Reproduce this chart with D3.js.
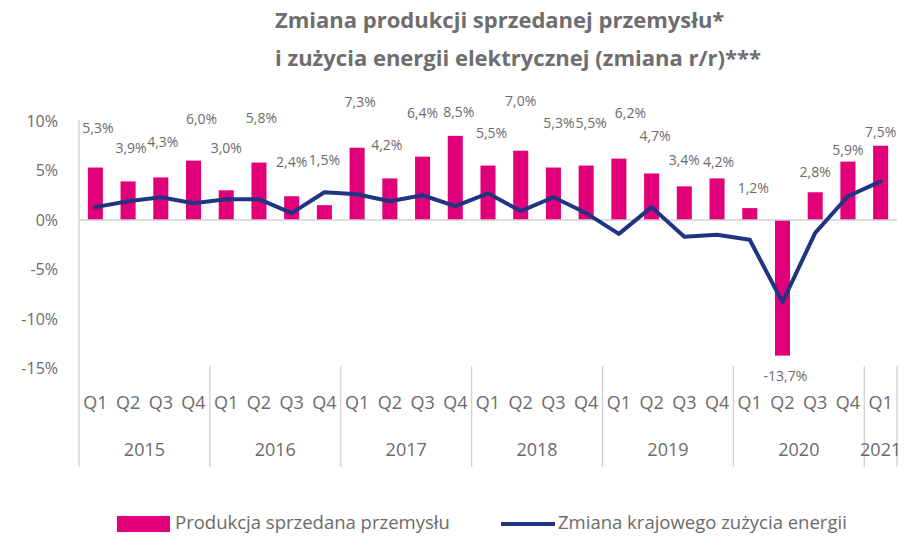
<!DOCTYPE html>
<html>
<head>
<meta charset="utf-8">
<script src="https://cdn.jsdelivr.net/npm/d3@7/dist/d3.min.js"></script>
<style>
  html, body { margin: 0; padding: 0; background: #fff; }
  svg { display: block; }
  text { font-family: "Open Sans", "Noto Sans", sans-serif; }
</style>
</head>
<body>
<svg id="chart" width="904" height="536"></svg>
<script>
// ---- data ----
const years = ["2015", "2016", "2017", "2018", "2019", "2020", "2021"];
const quartersPerYear = [4, 4, 4, 4, 4, 4, 1];
const quarterLabels = ["Q1","Q2","Q3","Q4","Q1","Q2","Q3","Q4","Q1","Q2","Q3","Q4","Q1","Q2","Q3","Q4","Q1","Q2","Q3","Q4","Q1","Q2","Q3","Q4","Q1"];
const production = [5.3, 3.9, 4.3, 6.0, 3.0, 5.8, 2.4, 1.5, 7.3, 4.2, 6.4, 8.5, 5.5, 7.0, 5.3, 5.5, 6.2, 4.7, 3.4, 4.2, 1.2, -13.7, 2.8, 5.9, 7.5];
const energy = [1.3, 1.9, 2.3, 1.7, 2.1, 2.1, 0.7, 2.8, 2.6, 1.9, 2.5, 1.4, 2.7, 0.9, 2.3, 0.7, -1.4, 1.3, -1.7, -1.5, -2.0, -8.3, -1.3, 2.4, 3.9];
const yTicks = [10, 5, 0, -5, -10, -15];
const seriesNames = ["Produkcja sprzedana przemysłu", "Zmiana krajowego zużycia energii"];
const titleLines = ["Zmiana produkcji sprzedanej przemysłu*", "i zużycia energii elektrycznej (zmiana r/r)***"];

// label placement (value-axis level where each data label sits, and small x nudges)
const labelLevel = [9.3, 7.3, 7.9, 10.2, 7.3, 10.3, 5.8, 6.1, 11.9, 7.6, 10.8, 10.9, 8.8, 12.0, 9.8, 9.8, 10.8, 8.5, 6.1, 5.8, 3.2, -15.8, 4.8, 7.1, 8.9];
const labelDx = [2.5, 3, 2, 8, 0, 2.5, 0, 0, 3, -3, 0, 3.5, 3.5, 0, 5.5, 5, 11.5, 3.5, 0, 1.5, 3.5, 3, 0, 0, 0];

// ---- styles ----
const PINK = "#E2007A";
const NAVY = "#1F3581";
const TEXT = "#6b6b6b";
const AXIS = "#d0d0d0";

const svg = d3.select("#chart");
const fmt = v => d3.format(".1f")(v).replace(".", ",").replace("−", "-") + "%";

const left = 79, right = 897;
const x = d3.scaleBand()
  .domain(d3.range(production.length))
  .range([left, right])
  .paddingInner(0.54)
  .paddingOuter(0.27);

const y = d3.scaleLinear().domain([-15, 10]).range([368.5, 121]);

// title
svg.append("g").selectAll("text")
  .data(titleLines)
  .join("text")
  .attr("x", 275)
  .attr("y", (d, i) => 28 + i * 38)
  .attr("fill", "#6e6e6e")
  .attr("font-size", 22)
  .attr("font-weight", 700)
  .text(d => d);

// y axis labels
const yAxis = d3.axisLeft(y).tickValues(yTicks).tickSize(0).tickPadding(0)
  .tickFormat(d => d + "%");
const ya = svg.append("g").attr("transform", `translate(58,0)`).call(yAxis);
ya.select(".domain").remove();
ya.selectAll("text").attr("fill", TEXT).attr("font-size", 16)
  .attr("font-family", "'Open Sans', sans-serif");

// vertical axis line
svg.append("line")
  .attr("x1", left).attr("x2", left)
  .attr("y1", 120).attr("y2", 467)
  .attr("stroke", AXIS).attr("stroke-width", 1.3);

// bars
svg.append("g").selectAll("rect")
  .data(production)
  .join("rect")
  .attr("x", (d, i) => x(i))
  .attr("width", x.bandwidth())
  .attr("y", d => y(Math.max(0, d)))
  .attr("height", d => Math.abs(y(d) - y(0)))
  .attr("fill", PINK);

// zero line
svg.append("line")
  .attr("x1", left).attr("x2", right)
  .attr("y1", y(0)).attr("y2", y(0))
  .attr("stroke", AXIS).attr("stroke-width", 1.3);

// line series
const line = d3.line()
  .x((d, i) => x(i) + x.bandwidth() / 2)
  .y(d => y(d));
svg.append("path")
  .datum(energy)
  .attr("d", line)
  .attr("fill", "none")
  .attr("stroke", NAVY)
  .attr("stroke-width", 4)
  .attr("stroke-linejoin", "round")
  .attr("stroke-linecap", "round");

// data labels
svg.append("g").selectAll("text")
  .data(production)
  .join("text")
  .attr("x", (d, i) => x(i) + x.bandwidth() / 2 + labelDx[i])
  .attr("y", (d, i) => y(labelLevel[i]))
  .attr("dy", "0.35em")
  .attr("text-anchor", "middle")
  .attr("fill", TEXT)
  .attr("font-size", 14)
  .text(d => fmt(d));

// quarter labels
svg.append("g").selectAll("text")
  .data(quarterLabels)
  .join("text")
  .attr("x", (d, i) => x(i) + x.bandwidth() / 2)
  .attr("y", 403)
  .attr("dy", "0.35em")
  .attr("text-anchor", "middle")
  .attr("fill", TEXT)
  .attr("font-size", 18)
  .text(d => d);

// year groups
const step = x.step();
let startIdx = 0;
const yearGroups = years.map((yr, k) => {
  const s = startIdx;
  startIdx += quartersPerYear[k];
  return { yr, s, e: startIdx };
});
svg.append("g").selectAll("line")
  .data(yearGroups)
  .join("line")
  .attr("x1", d => left + d.e * step)
  .attr("x2", d => left + d.e * step)
  .attr("y1", 366).attr("y2", 467)
  .attr("stroke", AXIS).attr("stroke-width", 1.3);
svg.append("g").selectAll("text")
  .data(yearGroups)
  .join("text")
  .attr("x", d => left + (d.s + d.e) / 2 * step)
  .attr("y", 450)
  .attr("dy", "0.35em")
  .attr("text-anchor", "middle")
  .attr("fill", TEXT)
  .attr("font-size", 18)
  .text(d => d.yr);

// legend
const lg = svg.append("g");
lg.append("rect").attr("x", 117).attr("y", 516).attr("width", 53).attr("height", 16).attr("fill", PINK);
lg.append("text").attr("x", 175).attr("y", 529)
  .attr("fill", TEXT).attr("font-size", 18.5).text(seriesNames[0]);
lg.append("line").attr("x1", 501).attr("x2", 555).attr("y1", 524).attr("y2", 524)
  .attr("stroke", NAVY).attr("stroke-width", 4);
lg.append("text").attr("x", 558).attr("y", 529)
  .attr("fill", TEXT).attr("font-size", 18.5).text(seriesNames[1]);
</script>
</body>
</html>
